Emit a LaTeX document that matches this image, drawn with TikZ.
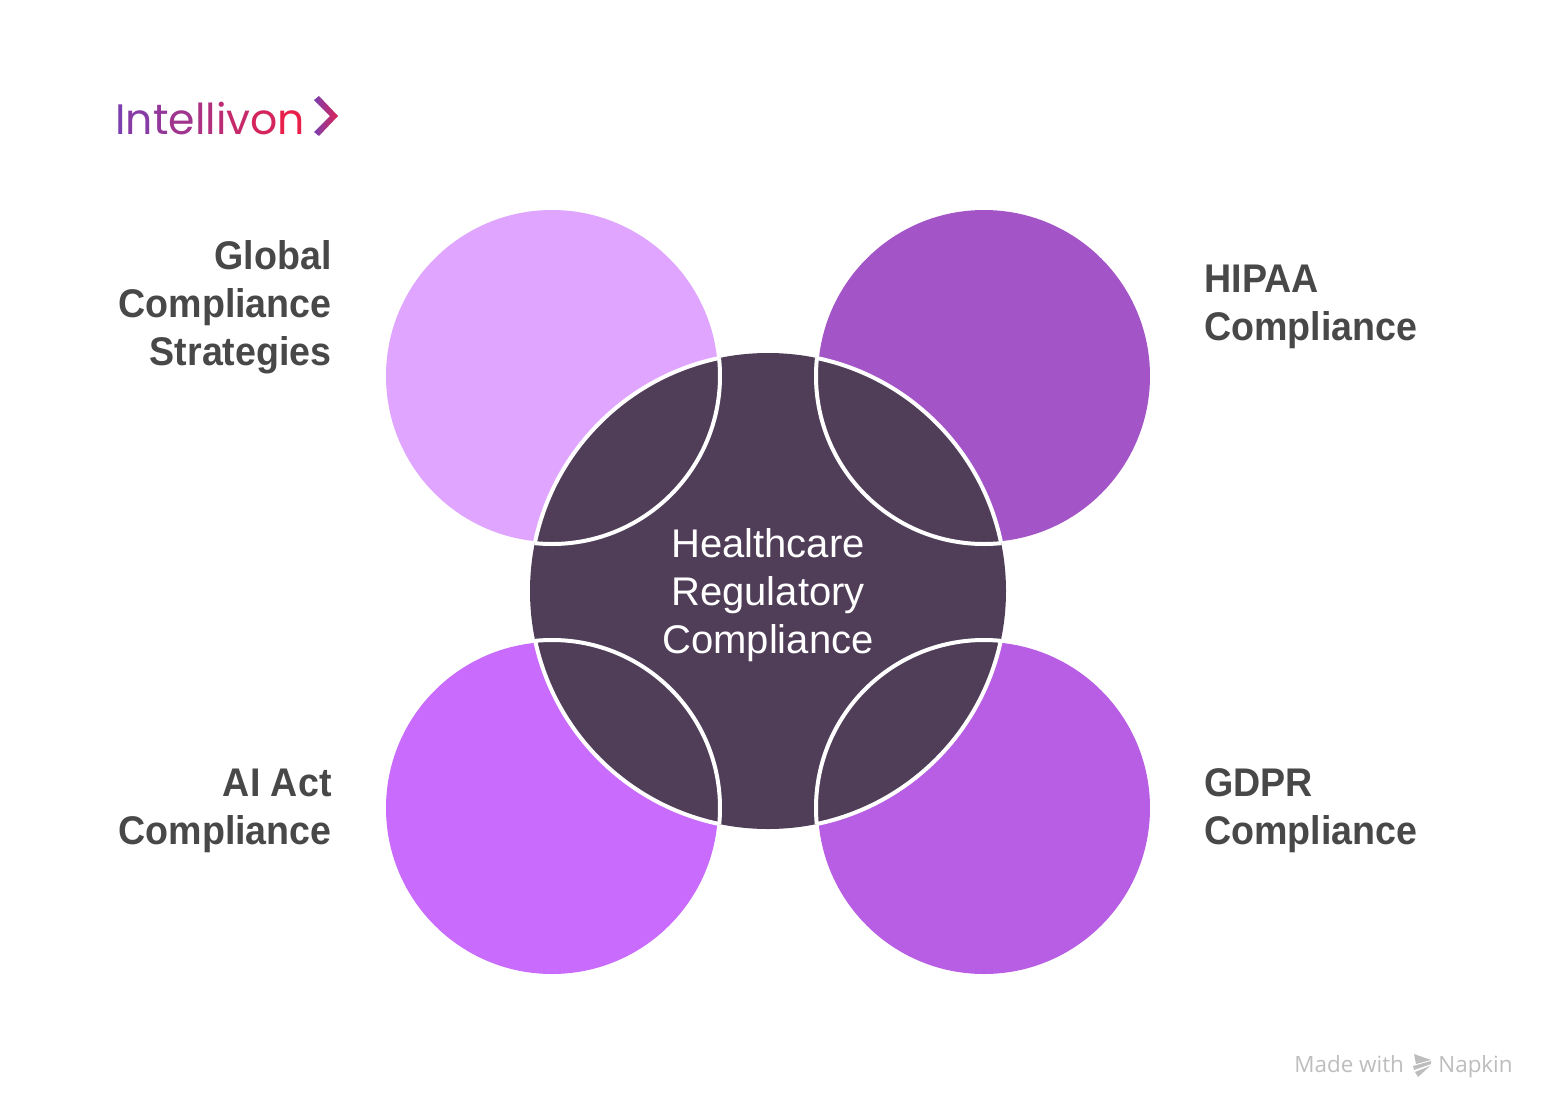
\documentclass[tikz,border=0pt]{standalone}
\usepackage{fontspec}
\setmainfont{Liberation Sans}
\newfontfamily\labelfont[FakeStretch=0.94]{Liberation Sans}
\newfontfamily\logofont{Poppins}
\newfontfamily\markfont{Open Sans}
\usetikzlibrary{positioning}
\definecolor{hubcol}{HTML}{503D58}
\definecolor{globalcol}{HTML}{E0A6FF}
\definecolor{hipaacol}{HTML}{A355C8}
\definecolor{aicol}{HTML}{C96BFC}
\definecolor{gdprcol}{HTML}{B85EE5}
\definecolor{labelcol}{HTML}{484848}
\definecolor{markcol}{HTML}{BDBDBD}
\definecolor{logoa}{HTML}{7B3FB0}
\definecolor{logob}{HTML}{E8204A}
\newcommand{\logoletter}[2]{\textcolor{logob!#1!logoa}{#2}}
\tikzset{
	petal/.style={circle, minimum size=166pt, inner sep=0pt, outer sep=0pt},
	seam/.style={white, line width=2pt},
	labeltext/.style={font=\labelfont\fontsize{20}{24}\selectfont\bfseries, text=labelcol, inner sep=0pt},
	hubtext/.style={font=\fontsize{20}{24}\selectfont, text=white, align=center, inner sep=0pt},
}
\begin{document}
\begin{tikzpicture}[x=0.5pt, y=-0.5pt]
	\useasboundingbox (0, 0) rectangle (1560, 1120);
	\node[petal, fill=globalcol] (global) at (552, 376) {};
	\node[petal, fill=hipaacol] (hipaa) at (984, 376) {};
	\node[petal, fill=aicol] (aiact) at (552, 808) {};
	\node[petal, fill=gdprcol] (gdpr) at (984, 808) {};
	\node[circle, minimum size=238pt, inner sep=0pt, outer sep=0pt, fill=hubcol] (hub) at (768, 591) {};
	% white seams where the circles overlap
	\foreach \petalname in {global, hipaa, aiact, gdpr} {
		\begin{scope}
			\clip (\petalname.center) circle [radius=168];
			\draw[seam] (hub.center) circle [radius=238];
		\end{scope}
		\begin{scope}
			\clip (hub.center) circle [radius=238];
			\draw[seam] (\petalname.center) circle [radius=168];
		\end{scope}
	}
	\node[hubtext] (hubtext) at (768, 595) {Healthcare\\Regulatory\\Compliance};
	\node[labeltext, align=right, anchor=east] (globaltext) at (332, 307) {Global\\Compliance\\Strategies};
	\node[labeltext, align=left, anchor=west] (hipaatext) at (1204, 307) {HIPAA\\Compliance};
	\node[labeltext, align=right, anchor=east] (aiacttext) at (332, 811) {AI Act\\Compliance};
	\node[labeltext, align=left, anchor=west] (gdprtext) at (1204, 811) {GDPR\\Compliance};
	% logo
	\node[font=\logofont\fontsize{21.3}{24}\selectfont, inner sep=0pt, anchor=base west] (logo) at (115, 134)
		{\logoletter{0}{I}\logoletter{11}{n}\logoletter{22}{t}\logoletter{33}{e}\logoletter{44}{l}\logoletter{50}{l}\logoletter{58}{i}\logoletter{68}{v}\logoletter{82}{o}\logoletter{100}{n}};
	\shade[left color=logoa, right color=logob!90!logoa] (319, 96) -- (338, 116) -- (319, 136) -- (314, 132) -- (330, 116) -- (314, 100) -- cycle;
	% footer mark
	\node[font=\markfont\fontsize{11.2}{13}\selectfont, text=markcol, inner sep=0pt, anchor=base west] (madewith) at (1294, 1072) {Made with};
	\node[font=\markfont\fontsize{11.2}{13}\selectfont, text=markcol, inner sep=0pt, anchor=base west] (napkin) at (1438, 1072) {Napkin};
	\fill[markcol] (1414, 1054) -- (1431, 1060) -- (1416, 1064) -- cycle;
	\fill[markcol] (1413, 1066) -- (1431, 1061) -- (1431, 1064) -- (1414, 1070) -- cycle;
	\fill[markcol] (1415, 1072) -- (1430, 1066) -- (1418, 1077) -- cycle;
\end{tikzpicture}
\end{document}
